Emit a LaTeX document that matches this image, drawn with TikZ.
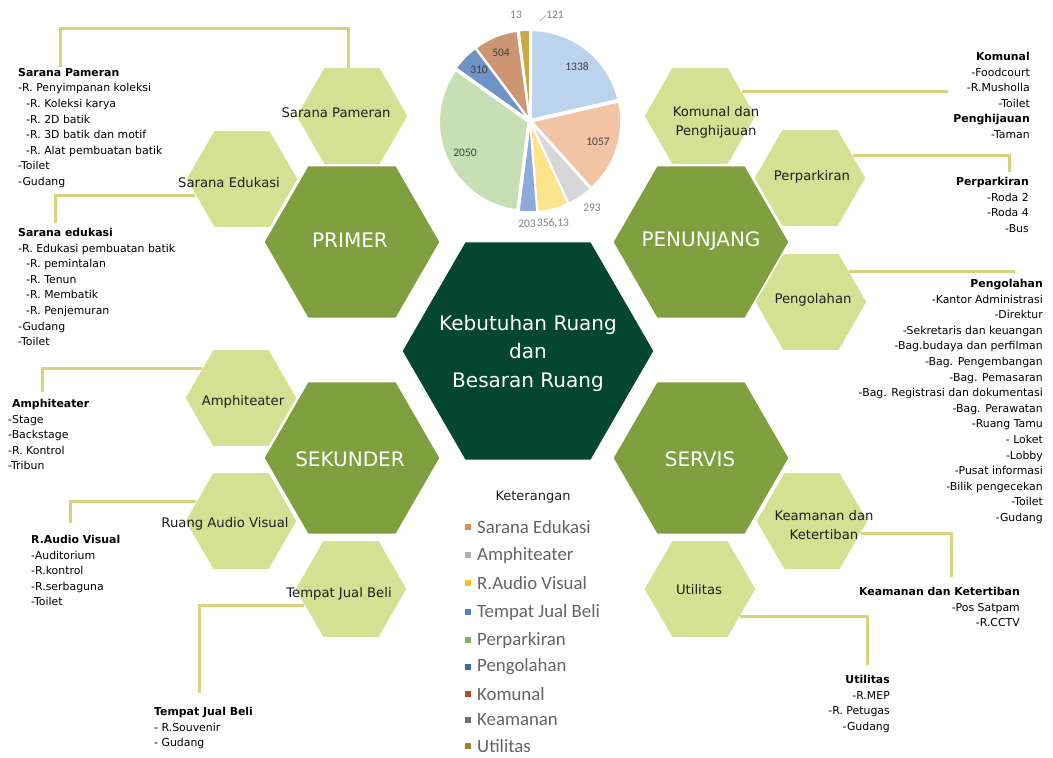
\documentclass[tikz,border=0pt]{standalone}
\usepackage{fontspec}
\setmainfont{DejaVu Sans}
\newfontfamily\legfont{Carlito}
\usetikzlibrary{shapes.geometric}
\definecolor{hexdark}{RGB}{4,70,47}
\definecolor{hexmid}{RGB}{128,160,64}
\definecolor{hexlight}{RGB}{212,224,146}
\definecolor{connc}{RGB}{214,211,122}
\definecolor{lbltxt}{RGB}{30,30,30}
\definecolor{legtxt}{RGB}{100,100,100}
\definecolor{pA}{RGB}{187,211,236}
\definecolor{pB}{RGB}{242,196,166}
\definecolor{pC}{RGB}{215,215,215}
\definecolor{pD}{RGB}{253,227,140}
\definecolor{pE}{RGB}{142,169,220}
\definecolor{pF}{RGB}{198,223,180}
\definecolor{pG}{RGB}{110,148,198}
\definecolor{pH}{RGB}{205,150,115}
\definecolor{pI}{RGB}{160,160,160}
\definecolor{pJ}{RGB}{200,168,70}
\definecolor{lB}{RGB}{238,135,70}
\definecolor{lC}{RGB}{175,175,175}
\definecolor{lD}{RGB}{255,195,30}
\definecolor{lE}{RGB}{85,125,200}
\definecolor{lF}{RGB}{120,178,85}
\definecolor{lG}{RGB}{55,110,160}
\definecolor{lH}{RGB}{165,85,35}
\definecolor{lI}{RGB}{110,110,110}
\definecolor{lJ}{RGB}{165,128,30}
\newcommand\pieslice[4]{%
  \fill[#3,draw=white,line width=1.6pt,shift={(#4:2)}] (530,121) -- plot[domain=#1:#2,samples=40] ({530+89*cos(\x)},{121+89*sin(\x)}) -- cycle;}
\begin{document}
\begin{tikzpicture}[x=1pt,y=-1pt,
  hexbase/.style={regular polygon,regular polygon sides=6,inner sep=0pt,outer sep=0pt,draw=white,line width=1pt},
  hexcenter/.style={hexbase,fill=hexdark,minimum size=252pt},
  hexcat/.style={hexbase,fill=hexmid,minimum size=176pt},
  hexsub/.style={hexbase,fill=hexlight,minimum size=112pt},
  catlbl/.style={text=white,font=\fontsize{20}{28.5}\selectfont,align=center,inner sep=0pt},
  sublbl/.style={text=lbltxt,font=\fontsize{13.2}{19}\selectfont,align=center,inner sep=0pt},
  listL/.style={anchor=north west,align=left,inner sep=0pt,font=\fontsize{10.9}{15.6}\selectfont,text=black},
  listR/.style={anchor=north east,align=right,inner sep=0pt,font=\fontsize{10.9}{15.6}\selectfont,text=black},
  connector/.style={draw=connc,line width=3pt},
  pielblin/.style={font=\legfont\fontsize{11.5}{12}\selectfont,text=black!75,inner sep=0pt},
  pielblout/.style={font=\legfont\fontsize{11.5}{12}\selectfont,text=black!50,inner sep=0pt},
  legsq/.style={minimum size=6pt,inner sep=0pt},
  legitem/.style={anchor=west,font=\legfont\fontsize{18.8}{20}\selectfont,text=legtxt,inner sep=0pt},
]
\fill[white] (0,0) rectangle (1053,758);
\path[use as bounding box] (0,0) rectangle (1053,758);

% ---------- pie chart ----------
\pieslice{-90}{-12.87}{pA}{-51.4}
\pieslice{-12.87}{48.06}{pB}{17.6}
\pieslice{48.06}{64.95}{pC}{56.5}
\pieslice{64.95}{85.48}{pD}{75.2}
\pieslice{85.48}{97.18}{pE}{91.3}
\pieslice{97.18}{215.35}{pF}{156.3}
\pieslice{215.35}{233.22}{pG}{224.3}
\pieslice{233.22}{262.27}{pH}{247.7}
\pieslice{262.27}{263.02}{pI}{262.6}
\pieslice{263.02}{270}{pJ}{266.5}
\node[pielblin] (v1338) at (577,67) {1338};
\node[pielblin] (v1057) at (598,142) {1057};
\node[pielblin] (v2050) at (465,153) {2050};
\node[pielblin] (v310) at (479,70) {310};
\node[pielblin] (v504) at (501,53) {504};
\node[pielblout] (v293) at (592,208) {293};
\node[pielblout] (v356) at (553,223) {356,13};
\node[pielblout] (v203) at (527,224) {203};
\node[pielblout] (v13) at (516,15) {13};
\node[pielblout] (v121) at (555,15) {121};
\coordinate (lead121) at (540,21);
\draw[black!40,line width=0.6pt] (lead121) -- (v121.west);

% ---------- hexagons ----------
\node[hexsub] (pameran) at (352,116) {};
\node[hexsub] (edukasi) at (242,179) {};
\node[hexsub] (amphi) at (241,398) {};
\node[hexsub] (av) at (241,521) {};
\node[hexsub] (tjb) at (351,589) {};
\node[hexsub] (komunal) at (700,116) {};
\node[hexsub] (parkir) at (810,178) {};
\node[hexsub] (olah) at (811,302) {};
\node[hexsub] (aman) at (812,521) {};
\node[hexsub] (util) at (700,589) {};
\node[hexcat] (primer) at (352,242) {};
\node[hexcat] (sekunder) at (352,458) {};
\node[hexcat] (penunjang) at (701,242) {};
\node[hexcat] (servis) at (701,458) {};
\node[hexcenter] (pusat) at (528,351) {};

% ---------- hexagon labels ----------
\node[catlbl] (tpusat) at (528,353) {Kebutuhan Ruang\\dan\\Besaran Ruang};
\node[catlbl] (tprimer) at (350,240) {PRIMER};
\node[catlbl] (tsekunder) at (350,459) {SEKUNDER};
\node[catlbl] (tpenunjang) at (701,241) {PENUNJANG};
\node[catlbl] (tservis) at (700,459) {SERVIS};
\node[sublbl] (tpameran) at (336,113) {Sarana Pameran};
\node[sublbl] (tedukasi) at (229,183) {Sarana Edukasi};
\node[sublbl] (tamphi) at (243,402) {Amphiteater};
\node[sublbl] (tav) at (225,524) {Ruang Audio Visual};
\node[sublbl] (ttjb) at (339,594) {Tempat Jual Beli};
\node[sublbl] (tkomunal) at (716,122) {Komunal dan\\Penghijauan};
\node[sublbl] (tparkir) at (812,177) {Perparkiran};
\node[sublbl] (tolah) at (813,300) {Pengolahan};
\node[sublbl] (taman) at (824,525) {Keamanan dan\\Ketertiban};
\node[sublbl] (tutil) at (699,590) {Utilitas};

% ---------- connector ends ----------
\coordinate (pamA) at (348,28);
\coordinate (pamE) at (60,67);
\coordinate (eduE) at (55,223);
\coordinate (amphE) at (42,392);
\coordinate (avE) at (70,523);
\coordinate (tjbE) at (199,693);
\coordinate (komE) at (948,91);
\coordinate (parkE) at (1009,172);
\coordinate (olahE) at (1015,271);
\coordinate (amanE) at (951,577);
\coordinate (utilE) at (867,665);

\draw[connector] (pameran.north -| pamA) -- (pamA) -| (pamE);
\draw[connector] (edukasi.199) -| (eduE);
\draw[connector] (amphi.143) -| (amphE);
\draw[connector] (av.157) -| (avE);
\draw[connector] (tjb.199) -| (tjbE);
\draw[connector] (komunal.31) -- (komunal.31 -| komE);
\draw[connector] (parkir.27) -| (parkE);
\draw[connector] (olah.39) -- (olah.39 -| olahE);
\draw[connector] (aman.346) -| (amanE);
\draw[connector] (util.326) -| (utilE);

% ---------- lists ----------
\node[listL] (lpameran) at (18,68) {\textbf{Sarana Pameran}\\
-R. Penyimpanan koleksi\\
\hspace*{8pt}-R. Koleksi karya\\
\hspace*{8pt}-R. 2D batik\\
\hspace*{8pt}-R. 3D batik dan motif\\
\hspace*{8pt}-R. Alat pembuatan batik\\
-Toilet\\
-Gudang};
\node[listL] (ledukasi) at (18,228) {\textbf{Sarana edukasi}\\
-R. Edukasi pembuatan batik\\
\hspace*{8pt}-R. pemintalan\\
\hspace*{8pt}-R. Tenun\\
\hspace*{8pt}-R. Membatik\\
\hspace*{8pt}-R. Penjemuran\\
-Gudang\\
-Toilet};
\node[listL] (lamphi) at (8,399) {\hspace*{4pt}\textbf{Amphiteater}\\
-Stage\\
-Backstage\\
-R. Kontrol\\
-Tribun};
\node[listL] (lav) at (31,535) {\textbf{R.Audio Visual}\\
-Auditorium\\
-R.kontrol\\
-R.serbaguna\\
-Toilet};
\node[listL] (ltjb) at (154,707) {\textbf{Tempat Jual Beli}\\
- R.Souvenir\\
- Gudang};
\node[listR] (lkomunal) at (1030,52) {\textbf{Komunal}\\
-Foodcourt\\
-R.Musholla\\
-Toilet\\
\textbf{Penghijauan}\\
-Taman};
\node[listR] (lparkir) at (1029,177) {\textbf{Perparkiran}\\
-Roda 2\\
-Roda 4\\
-Bus};
\node[listR] (lolah) at (1043,279) {\textbf{Pengolahan}\\
-Kantor Administrasi\\
-Direktur\\
-Sekretaris dan keuangan\\
-Bag.budaya dan perfilman\\
-Bag. Pengembangan\\
-Bag. Pemasaran\\
-Bag. Registrasi dan dokumentasi\\
-Bag. Perawatan\\
-Ruang Tamu\\
- Loket\\
-Lobby\\
-Pusat informasi\\
-Bilik pengecekan\\
-Toilet\\
-Gudang};
\node[listR] (laman) at (1020,587) {\textbf{Keamanan dan Ketertiban}\\
-Pos Satpam\\
-R.CCTV};
\node[listR] (lutil) at (890,675) {\textbf{Utilitas}\\
-R.MEP\\
-R. Petugas\\
-Gudang};

% ---------- legend ----------
\node[font=\fontsize{13}{15}\selectfont,text=lbltxt,inner sep=0pt] (ket) at (533,497) {Keterangan};
\foreach \y/\c/\t [count=\i] in {527/lB/Sarana Edukasi,555/lC/Amphiteater,583/lD/R.Audio Visual,612/lE/Tempat Jual Beli,640/lF/Perparkiran,667/lG/Pengolahan,694/lH/Komunal,720/lI/Keamanan,746/lJ/Utilitas}{
  \node[legsq,fill=\c] (sq\i) at (468,\y) {};
  \node[legitem] (li\i) at (477,\y) {\t};
}
\end{tikzpicture}
\end{document}
